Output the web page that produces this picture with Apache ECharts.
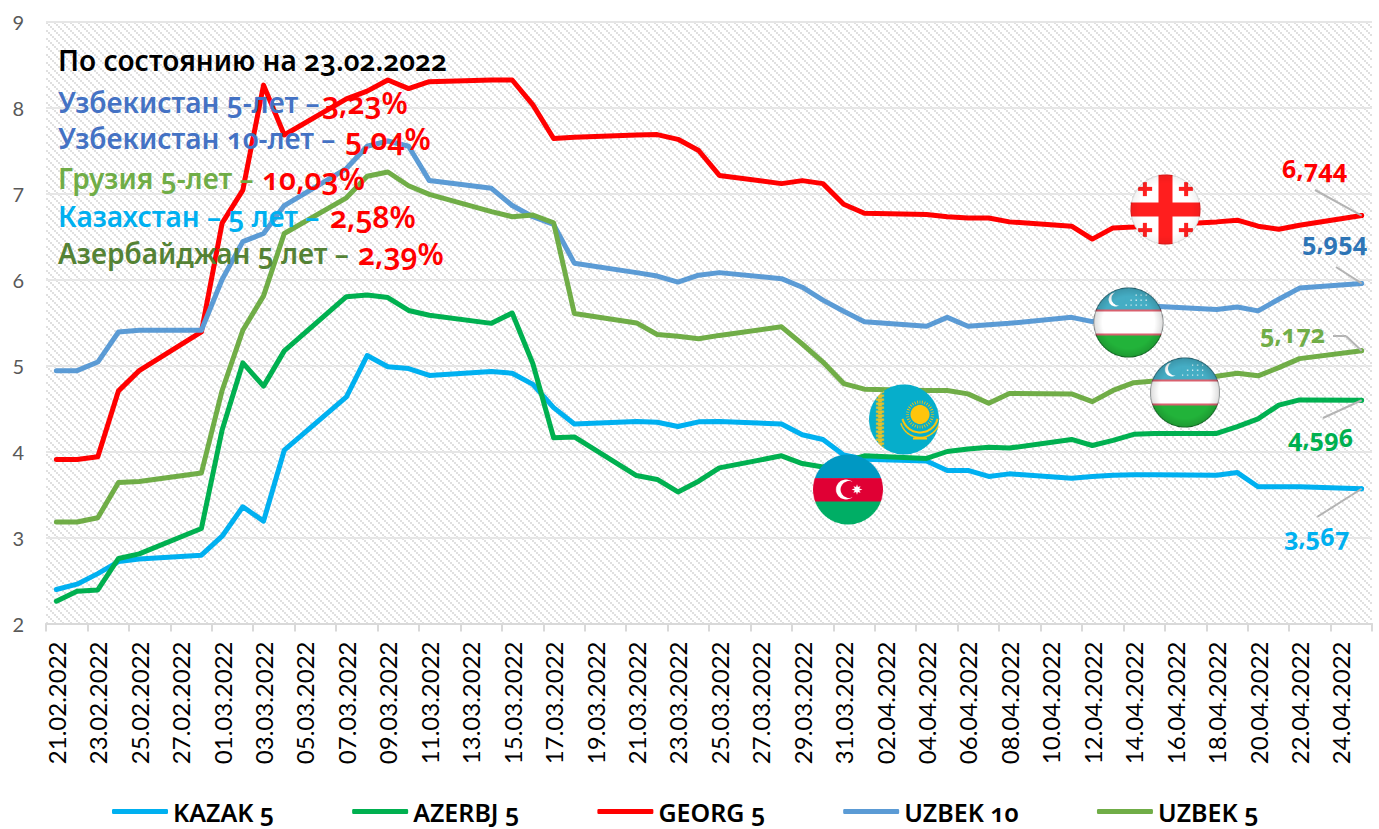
<!DOCTYPE html>
<html lang="ru">
<head>
    <meta charset="UTF-8">
    <title>Еврооблигации</title>
    <script src="https://cdn.jsdelivr.net/npm/echarts@6/dist/echarts.min.js"></script>
    <style>
        html, body { margin: 0; padding: 0; background: #fff; }
        /* old style digits, as in the original workbook font */
        svg text[style*="Noto Sans"] { font-feature-settings: "onum" 1 !important; font-variant-numeric: oldstyle-nums !important; }
    </style>
</head>
<body>
    <div id="main" style="width: 1379px; height: 829px"></div>
    <script>
        var myEcharts = echarts.init(document.getElementById('main'), null, { renderer: 'svg' })

        var dates = [
            '21.02.2022', '22.02.2022', '23.02.2022', '24.02.2022', '25.02.2022', '26.02.2022', '27.02.2022', '28.02.2022',
            '01.03.2022', '02.03.2022', '03.03.2022', '04.03.2022', '05.03.2022', '06.03.2022', '07.03.2022', '08.03.2022',
            '09.03.2022', '10.03.2022', '11.03.2022', '12.03.2022', '13.03.2022', '14.03.2022', '15.03.2022', '16.03.2022',
            '17.03.2022', '18.03.2022', '19.03.2022', '20.03.2022', '21.03.2022', '22.03.2022', '23.03.2022', '24.03.2022',
            '25.03.2022', '26.03.2022', '27.03.2022', '28.03.2022', '29.03.2022', '30.03.2022', '31.03.2022', '01.04.2022',
            '02.04.2022', '03.04.2022', '04.04.2022', '05.04.2022', '06.04.2022', '07.04.2022', '08.04.2022', '09.04.2022',
            '10.04.2022', '11.04.2022', '12.04.2022', '13.04.2022', '14.04.2022', '15.04.2022', '16.04.2022', '17.04.2022',
            '18.04.2022', '19.04.2022', '20.04.2022', '21.04.2022', '22.04.2022', '23.04.2022', '24.04.2022', '25.04.2022'
        ]

        // weekdays only, the lines run straight over weekends
        var tradeDays = [
            '21.02.2022', '22.02.2022', '23.02.2022', '24.02.2022', '25.02.2022', '28.02.2022',
            '01.03.2022', '02.03.2022', '03.03.2022', '04.03.2022', '07.03.2022', '08.03.2022', '09.03.2022', '10.03.2022', '11.03.2022',
            '14.03.2022', '15.03.2022', '16.03.2022', '17.03.2022', '18.03.2022', '21.03.2022', '22.03.2022', '23.03.2022', '24.03.2022', '25.03.2022',
            '28.03.2022', '29.03.2022', '30.03.2022', '31.03.2022', '01.04.2022',
            '04.04.2022', '05.04.2022', '06.04.2022', '07.04.2022', '08.04.2022',
            '11.04.2022', '12.04.2022', '13.04.2022', '14.04.2022', '15.04.2022',
            '18.04.2022', '19.04.2022', '20.04.2022', '21.04.2022', '22.04.2022', '25.04.2022'
        ]

        var kazak5 = [2.395, 2.457, 2.58, 2.72, 2.75, 2.795, 3.015, 3.357, 3.19, 4.015, 4.635, 5.116, 4.985, 4.965, 4.885, 4.93, 4.91, 4.78, 4.51, 4.32, 4.35, 4.34, 4.29, 4.345, 4.35, 4.32, 4.195, 4.14, 3.96, 3.91, 3.89, 3.78, 3.78, 3.71, 3.74, 3.69, 3.71, 3.725, 3.73, 3.73, 3.725, 3.755, 3.59, 3.59, 3.59, 3.567]
        var azerbj5 = [2.26, 2.376, 2.39, 2.756, 2.81, 3.105, 4.25, 5.03, 4.76, 5.17, 5.80, 5.82, 5.79, 5.64, 5.585, 5.49, 5.61, 5.02, 4.16, 4.17, 3.72, 3.675, 3.53, 3.655, 3.81, 3.95, 3.86, 3.82, 3.88, 3.95, 3.92, 4.0, 4.03, 4.05, 4.04, 4.14, 4.07, 4.13, 4.20, 4.21, 4.21, 4.29, 4.38, 4.54, 4.60, 4.596]
        var georg5 = [3.907, 3.907, 3.94, 4.705, 4.94, 5.39, 6.655, 7.04, 8.26, 7.68, 8.10, 8.19, 8.32, 8.22, 8.30, 8.32, 8.32, 8.03, 7.64, 7.655, 7.68, 7.685, 7.63, 7.50, 7.21, 7.115, 7.15, 7.115, 6.875, 6.77, 6.755, 6.73, 6.715, 6.715, 6.67, 6.62, 6.47, 6.60, 6.61, 6.63, 6.67, 6.69, 6.62, 6.585, 6.63, 6.744]
        var uzbek10 = [4.94, 4.94, 5.04, 5.39, 5.41, 5.41, 6.0, 6.44, 6.535, 6.86, 7.29, 7.55, 7.61, 7.55, 7.15, 7.06, 6.86, 6.73, 6.64, 6.19, 6.08, 6.04, 5.97, 6.05, 6.08, 6.01, 5.91, 5.76, 5.63, 5.51, 5.457, 5.56, 5.457, 5.475, 5.49, 5.56, 5.51, 5.6, 5.65, 5.69, 5.65, 5.68, 5.635, 5.77, 5.90, 5.954]
        var uzbek5 = [3.18, 3.18, 3.23, 3.64, 3.65, 3.75, 4.71, 5.41, 5.81, 6.535, 6.95, 7.20, 7.25, 7.09, 6.99, 6.79, 6.73, 6.75, 6.66, 5.605, 5.495, 5.36, 5.34, 5.31, 5.35, 5.45, 5.25, 5.04, 4.79, 4.725, 4.71, 4.71, 4.67, 4.56, 4.675, 4.67, 4.58, 4.71, 4.80, 4.82, 4.875, 4.91, 4.88, 4.975, 5.08, 5.172]

        var FONT = '"Noto Sans"'

        // hatch behind the plot
        function hatchTile() {
            var c = document.createElement('canvas')
            c.width = 8
            c.height = 8
            var ctx = c.getContext('2d')
            ctx.fillStyle = '#e0e0e0'
            for (var k = 0; k < 4; k++) ctx.fillRect(k * 2, k * 2, 2, 2)
            return c
        }

        // leader runs from the last point to the given spots near the label
        function makeSeries(name, values, color, labelColor, dx, dy, leader) {
            var data = tradeDays.map(function (d, i) { return [d, values[i]] })
            var last = data[data.length - 1]
            // only the last point carries a label
            data[data.length - 1] = {
                value: last,
                symbol: 'circle',
                symbolSize: 5,
                itemStyle: { color: color },
                label: {
                    show: true,
                    position: 'inside',
                    color: labelColor,
                    fontFamily: FONT,
                    fontWeight: 700,
                    fontSize: 25,
                    formatter: function (p) { return p.value[1].toFixed(3).replace('.', ',') }
                }
            }
            var leaderData = []
            var from = { coord: last }
            leader.forEach(function (p) {
                var to = { x: p[0], y: p[1] }
                leaderData.push([from, to])
                from = to
            })
            return {
                name: name,
                type: 'line',
                symbol: 'none',
                lineStyle: { color: color, width: 5, cap: 'round', join: 'round' },
                itemStyle: { color: color },
                label: { show: false },
                labelLayout: { dx: dx, dy: dy },
                markLine: {
                    silent: true,
                    symbol: 'none',
                    label: { show: false },
                    lineStyle: { color: '#b4b4b4', width: 2, type: 'solid' },
                    data: leaderData
                },
                data: data
            }
        }

        // flags are drawn once on a canvas, then placed as pictures
        function flag(paint, edge) {
            var r = 35, s = 3
            var c = document.createElement('canvas')
            c.width = c.height = r * 2 * s
            var ctx = c.getContext('2d')
            ctx.scale(s, s)
            ctx.beginPath()
            ctx.arc(r, r, r, 0, Math.PI * 2)
            ctx.clip()
            paint(ctx, r * 2)
            if (edge) {
                var g = ctx.createRadialGradient(r, r, r * 0.75, r, r, r)
                g.addColorStop(0, 'rgba(0,0,0,0)')
                g.addColorStop(0.85, 'rgba(0,0,0,' + edge * 0.2 + ')')
                g.addColorStop(1, 'rgba(0,0,0,' + edge + ')')
                ctx.fillStyle = g
                ctx.fillRect(0, 0, r * 2, r * 2)
            }
            return c.toDataURL()
        }

        function paintUzbek(ctx, d) {
            ctx.fillStyle = '#45adc4'
            ctx.fillRect(0, 0, d, d)
            ctx.fillStyle = '#ffffff'
            ctx.fillRect(0, 23, d, 24)
            ctx.fillStyle = '#22b33a'
            ctx.fillRect(0, 47, d, 23)
            ctx.fillStyle = '#d9606e'
            ctx.fillRect(0, 22, d, 2)
            ctx.fillRect(0, 46, d, 2)
            ctx.fillStyle = '#ffffff'
            ctx.beginPath()
            ctx.arc(22, 12, 7, 0, Math.PI * 2)
            ctx.fill()
            ctx.fillStyle = '#45adc4'
            ctx.beginPath()
            ctx.arc(25, 11, 7, 0, Math.PI * 2)
            ctx.fill()
            ctx.fillStyle = 'rgba(255,255,255,0.8)'
            for (var row = 0; row < 3; row++) {
                for (var col = 0; col < 5; col++) {
                    if (row < 2 && col < 2 - row) continue
                    ctx.fillRect(32 + col * 5, 7 + row * 5, 1.3, 1.3)
                }
            }
        }

        function paintGeorgia(ctx, d) {
            ctx.fillStyle = '#ffffff'
            ctx.fillRect(0, 0, d, d)
            ctx.fillStyle = '#ff1e1e'
            ctx.fillRect(28, 0, 14, d)
            ctx.fillRect(0, 28, d, 14)
            var spots = [[14.5, 14.5], [55.5, 14.5], [14.5, 55.5], [55.5, 55.5]]
            spots.forEach(function (p) {
                ctx.fillRect(p[0] - 2, p[1] - 7, 4, 14)
                ctx.fillRect(p[0] - 7, p[1] - 2, 14, 4)
            })
        }

        function paintKazakh(ctx, d) {
            ctx.fillStyle = '#06aecb'
            ctx.fillRect(0, 0, d, d)
            // ornament on the hoist side
            ctx.fillStyle = '#e3c12a'
            for (var y = 6; y < 66; y += 4) {
                ctx.fillRect(7, y, 8, 2.4)
                ctx.fillRect(9, y + 2, 4, 1.6)
            }
            ctx.fillStyle = '#fec50c'
            ctx.beginPath()
            ctx.arc(51, 30, 9.5, 0, Math.PI * 2)
            ctx.fill()
            ctx.strokeStyle = '#fec50c'
            ctx.lineWidth = 0.8
            for (var a = 0; a < 32; a++) {
                var t = a / 32 * Math.PI * 2
                ctx.beginPath()
                ctx.moveTo(51 + Math.cos(t) * 11, 30 + Math.sin(t) * 11)
                ctx.lineTo(51 + Math.cos(t) * 14, 30 + Math.sin(t) * 14)
                ctx.stroke()
            }
            // eagle wings
            ctx.lineWidth = 2
            ctx.beginPath()
            ctx.arc(51, 30, 18, 0.25, Math.PI - 0.25)
            ctx.stroke()
            ctx.lineWidth = 1.4
            ctx.beginPath()
            ctx.arc(51, 33, 20, 0.3, Math.PI - 0.3)
            ctx.stroke()
            ctx.fillRect(44, 53, 14, 2)
        }

        function paintAzeri(ctx, d) {
            ctx.fillStyle = '#0098c3'
            ctx.fillRect(0, 0, d, 23.5)
            ctx.fillStyle = '#e00034'
            ctx.fillRect(0, 23.5, d, 23.5)
            ctx.fillStyle = '#00ae65'
            ctx.fillRect(0, 47, d, 23)
            ctx.fillStyle = '#ffffff'
            ctx.beginPath()
            ctx.arc(33, 35, 10, 0, Math.PI * 2)
            ctx.fill()
            ctx.fillStyle = '#e00034'
            ctx.beginPath()
            ctx.arc(36, 35, 8.4, 0, Math.PI * 2)
            ctx.fill()
            ctx.fillStyle = '#ffffff'
            ctx.beginPath()
            for (var i = 0; i < 16; i++) {
                var t = i / 16 * Math.PI * 2, len = i % 2 ? 2.4 : 5.2
                ctx.lineTo(44 + Math.cos(t) * len, 35 + Math.sin(t) * len)
            }
            ctx.closePath()
            ctx.fill()
        }

        function flagImage(cx, cy, url) {
            return { type: 'image', z: 50, x: cx - 35, y: cy - 35, style: { image: url, x: 0, y: 0, width: 70, height: 70 } }
        }

        function noteText(x, y, text, color, size, weight) {
            return {
                type: 'text', z: 60, x: x, y: y,
                style: { text: text, fill: color, font: weight + ' ' + size + 'px ' + FONT, textVerticalAlign: 'middle', verticalAlign: 'middle' }
            }
        }

        var notes = [
            noteText(58, 60, 'По состоянию на 23.02.2022', '#000000', 28, 600),
            noteText(58, 102, 'Узбекистан 5-лет –', '#4472c4', 28, 600),
            noteText(322, 102, '3,23%', '#ff0000', 30, 600),
            noteText(58, 138, 'Узбекистан 10-лет –', '#4472c4', 28, 600),
            noteText(345, 138, '5,04%', '#ff0000', 30, 600),
            noteText(58, 178, 'Грузия 5-лет –', '#70ad47', 28, 600),
            noteText(262, 178, '10,03%', '#ff0000', 30, 600),
            noteText(58, 216, 'Казахстан – 5 лет –', '#00b0f0', 28, 600),
            noteText(330, 216, '2,58%', '#ff0000', 30, 600),
            noteText(58, 253, 'Азербайджан 5 лет –', '#548235', 28, 600),
            noteText(358, 253, '2,39%', '#ff0000', 30, 600)
        ]

        var flags = [
            flagImage(1165.5, 209.5, flag(paintGeorgia, 0.22)),
            flagImage(1128.5, 322.5, flag(paintUzbek, 0.6)),
            flagImage(1185, 392.5, flag(paintUzbek, 0.6)),
            flagImage(904, 419.5, flag(paintKazakh, 0)),
            flagImage(848, 489.5, flag(paintAzeri, 0))
        ]

        var option = {
            animation: false,
            backgroundColor: '#ffffff',
            grid: {
                show: true,
                left: 46, right: 7, top: 21.5, bottom: 205.5,
                borderWidth: 0,
                backgroundColor: { image: hatchTile(), repeat: 'repeat', imageWidth: 8, imageHeight: 8 }
            },
            legend: {
                left: 107,
                top: 794,
                icon: 'roundRect',
                itemWidth: 56,
                itemHeight: 5,
                itemGap: 78,
                textStyle: { fontFamily: FONT, fontWeight: 600, fontSize: 25, lineHeight: 25, color: '#000000' },
                data: ['KAZAK 5', 'AZERBJ 5', 'GEORG 5', 'UZBEK 10', 'UZBEK 5']
            },
            xAxis: {
                type: 'category',
                data: dates,
                boundaryGap: true,
                axisLine: { lineStyle: { color: '#d9d9d9', width: 2 } },
                axisTick: { show: true, interval: 1, length: 8, lineStyle: { color: '#d9d9d9', width: 2 } },
                axisLabel: { interval: 1, rotate: 90, margin: 18, color: '#000000', fontFamily: 'Lato', fontSize: 24 }
            },
            yAxis: {
                type: 'value',
                min: 2,
                max: 9,
                interval: 1,
                axisLine: { show: false },
                axisTick: { show: false },
                axisLabel: { margin: 22, color: '#595959', fontFamily: 'Lato', fontSize: 20, padding: [0, 0, 4, 0] },
                splitLine: { show: true, lineStyle: { color: '#e6e6e6', width: 2 } }
            },
            series: [
                makeSeries('KAZAK 5', kazak5, '#00b0f0', '#00b0f0', -45, 47, [[1317, 517]]),
                makeSeries('AZERBJ 5', azerbj5, '#00b050', '#00b050', -41, 37, [[1323, 418]]),
                makeSeries('GEORG 5', georg5, '#ff0000', '#ff0000', -47, -48, [[1315, 190]]),
                makeSeries('UZBEK 10', uzbek10, '#5b9bd5', '#2e75b6', -27, -42, [[1336, 267]]),
                makeSeries('UZBEK 5', uzbek5, '#70ad47', '#70ad47', -69, -18, [[1346, 336], [1333, 336]])
            ],
            graphic: { elements: flags.concat(notes) }
        }

        myEcharts.setOption(option)
    </script>
</body>
</html>
